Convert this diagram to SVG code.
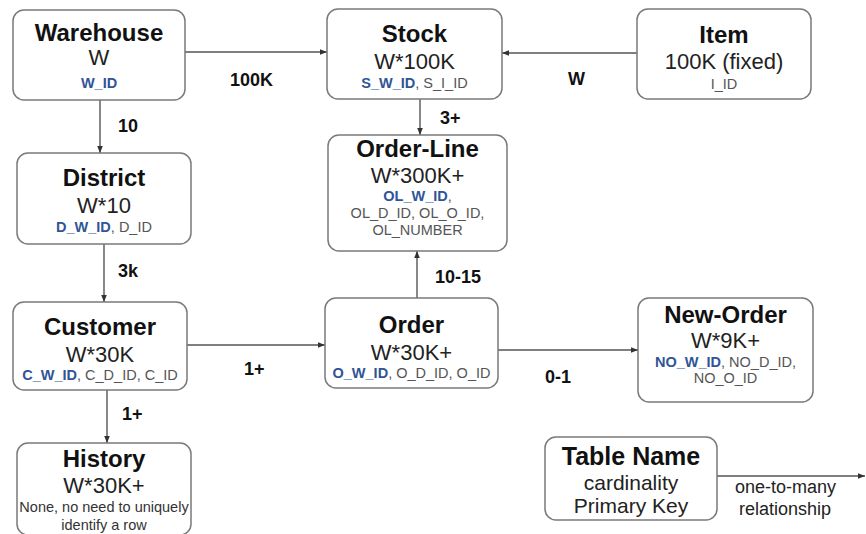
<svg xmlns="http://www.w3.org/2000/svg" width="866" height="534" viewBox="0 0 866 534">
<defs>
<marker id="arr" viewBox="0 0 10 10" refX="10" refY="5" markerWidth="7" markerHeight="7" orient="auto" markerUnits="userSpaceOnUse">
<path d="M0,1 L10,5 L0,9 z" fill="#333"/>
</marker>
<style>
.box{fill:#fff;stroke:#7a7a7a;stroke-width:1.5}
text{font-family:"Liberation Sans",Arial,sans-serif;text-anchor:middle}
.t{font-size:24px;font-weight:bold;fill:#111}
.c{font-size:22px;fill:#222}
.k{font-size:14.5px;fill:#555}
.kb{font-weight:bold;fill:#2f5597}
.h{font-size:14.5px;fill:#333}
.lbl{font-size:18px;font-weight:bold;fill:#111;text-anchor:start}
.edge{stroke:#555;stroke-width:1.4;fill:none;marker-end:url(#arr)}
.lt{font-size:25px;font-weight:bold;fill:#111}
.lc{font-size:21px;fill:#222}
.ll{font-size:18px;fill:#222;text-anchor:start}
</style>
</defs>
<rect width="866" height="534" fill="#fff"/>

<g id="connectors">
<line class="edge" x1="185" y1="52" x2="327" y2="52"/>
<line class="edge" x1="637" y1="53" x2="502" y2="53"/>
<line class="edge" x1="100" y1="100" x2="100" y2="153"/>
<line class="edge" x1="104" y1="244" x2="104" y2="302"/>
<line class="edge" x1="420" y1="99" x2="420" y2="135"/>
<line class="edge" x1="417" y1="298" x2="417" y2="251"/>
<line class="edge" x1="187" y1="345" x2="325" y2="345"/>
<line class="edge" x1="107" y1="390" x2="107" y2="443"/>
<line class="edge" x1="498" y1="350" x2="638" y2="350"/>
<line class="edge" x1="717" y1="476" x2="865" y2="476"/>
<text class="lbl" x="230" y="86">100K</text>
<text class="lbl" x="568" y="85">W</text>
<text class="lbl" x="118" y="132">10</text>
<text class="lbl" x="440" y="124">3+</text>
<text class="lbl" x="118" y="277">3k</text>
<text class="lbl" x="435" y="283">10-15</text>
<text class="lbl" x="244" y="375">1+</text>
<text class="lbl" x="122" y="420">1+</text>
<text class="lbl" x="545" y="383">0-1</text>
<text class="ll" x="735" y="493">one-to-many</text>
<text class="ll" x="739" y="515">relationship</text>
</g>

<g id="warehouse">
<rect class="box" x="13" y="10" width="172" height="90" rx="11"/>
<text class="t" x="99" y="41">Warehouse</text>
<text class="c" x="99" y="65">W</text>
<text class="k kb" x="99" y="88">W_ID</text>
</g>

<g id="stock">
<rect class="box" x="327" y="9" width="175" height="90" rx="11"/>
<text class="t" x="414.5" y="42">Stock</text>
<text class="c" x="414.5" y="69">W*100K</text>
<text class="k" x="414.5" y="88"><tspan class="kb">S_W_ID</tspan>, S_I_ID</text>
</g>

<g id="item">
<rect class="box" x="637" y="9" width="174" height="90" rx="11"/>
<text class="t" x="724" y="43">Item</text>
<text class="c" x="724" y="69">100K (fixed)</text>
<text class="k" x="724" y="89">I_ID</text>
</g>

<g id="district">
<rect class="box" x="17" y="153" width="174" height="91" rx="11"/>
<text class="t" x="104" y="186">District</text>
<text class="c" x="104" y="213">W*10</text>
<text class="k" x="104" y="232"><tspan class="kb">D_W_ID</tspan>, D_ID</text>
</g>

<g id="order-line">
<rect class="box" x="328" y="135" width="179" height="116" rx="11"/>
<text class="t" x="417.5" y="157">Order-Line</text>
<text class="c" x="417.5" y="183">W*300K+</text>
<text class="k" x="417.5" y="201"><tspan class="kb">OL_W_ID</tspan>,</text>
<text class="k" x="417.5" y="218">OL_D_ID, OL_O_ID,</text>
<text class="k" x="417.5" y="235">OL_NUMBER</text>
</g>

<g id="customer">
<rect class="box" x="13" y="302" width="174" height="88" rx="11"/>
<text class="t" x="100" y="335">Customer</text>
<text class="c" x="100" y="362">W*30K</text>
<text class="k" x="100" y="380"><tspan class="kb">C_W_ID</tspan>, C_D_ID, C_ID</text>
</g>

<g id="order">
<rect class="box" x="325" y="298" width="173" height="90" rx="11"/>
<text class="t" x="411.5" y="333">Order</text>
<text class="c" x="411.5" y="360">W*30K+</text>
<text class="k" x="411.5" y="378"><tspan class="kb">O_W_ID</tspan>, O_D_ID, O_ID</text>
</g>

<g id="new-order">
<rect class="box" x="638" y="298" width="175" height="104" rx="11"/>
<text class="t" x="725.5" y="323">New-Order</text>
<text class="c" x="725.5" y="348">W*9K+</text>
<text class="k" x="725.5" y="367"><tspan class="kb">NO_W_ID</tspan>, NO_D_ID,</text>
<text class="k" x="725.5" y="383">NO_O_ID</text>
</g>

<g id="history">
<rect class="box" x="17" y="443" width="174" height="92" rx="11"/>
<text class="t" x="104" y="467">History</text>
<text class="c" x="104" y="493">W*30K+</text>
<text class="h" x="104" y="512">None, no need to uniquely</text>
<text class="h" x="104" y="530">identify a row</text>
</g>

<g id="legend">
<rect class="box" x="545" y="437" width="172" height="83" rx="11"/>
<text class="lt" x="631" y="465">Table Name</text>
<text class="lc" x="631" y="490">cardinality</text>
<text class="lc" x="631" y="513">Primary Key</text>
</g>
</svg>
